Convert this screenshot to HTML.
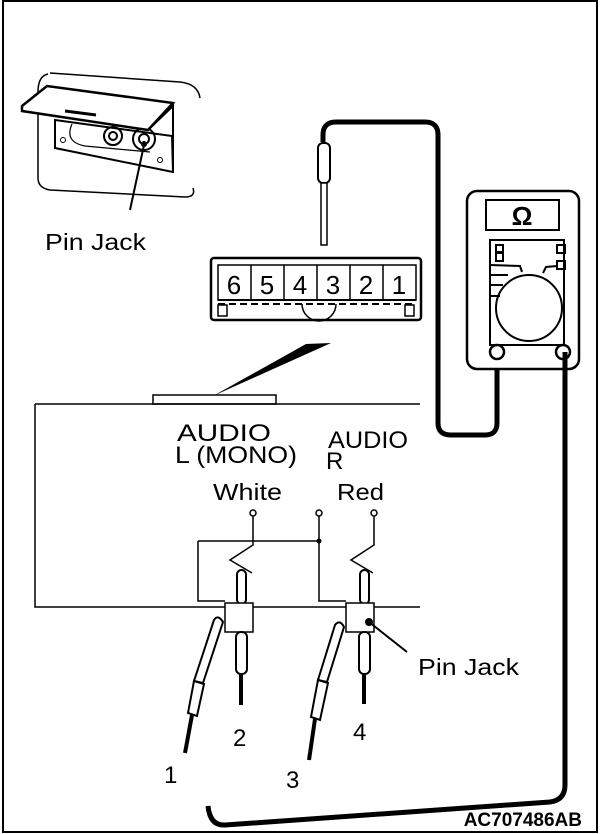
<!DOCTYPE html>
<html><head><meta charset="utf-8"><style>
html,body{margin:0;padding:0;background:#fff}
svg{display:block}
text{font-family:"Liberation Sans",Arial,sans-serif;fill:#000}
</style></head><body>
<svg width="600" height="834" viewBox="0 0 600 834" xmlns="http://www.w3.org/2000/svg">
<rect x="3" y="1" width="594" height="831" fill="none" stroke="#000" stroke-width="2"/>

<!-- pin jack illustration -->
<g fill="none" stroke="#000" stroke-width="1.5">
<path d="M48,74 Q38,76 38,92 L38,178 Q38,188 50,190 L185,197 Q196,197 193,188"/>
<path d="M50,73 L180,82 Q198,84 200,98"/>
</g>
<g fill="none" stroke="#000" stroke-width="2">
<polygon points="55,120 172,136 173,172 55,148" fill="#fff"/>
<path d="M72,124 Q64,142 85,146 L150,152" stroke-width="1.2"/>
<circle cx="63" cy="140" r="2.5" stroke-width="1"/>
<circle cx="160" cy="160" r="2.5" stroke-width="1"/>
<circle cx="113" cy="136" r="9"/><circle cx="113" cy="136" r="4"/>
<circle cx="144" cy="139" r="11"/><circle cx="144" cy="139" r="5"/>
<polygon points="22,106 47,86 173,103 148,130 22,111" fill="#fff" stroke-width="2.5"/>
<path d="M148,130 L173,106 L173,172" stroke-width="2"/>
<line x1="65" y1="111" x2="96" y2="115" stroke-width="3"/>
</g>
<line x1="144" y1="145" x2="130" y2="210" stroke="#000" stroke-width="2"/>
<circle cx="144" cy="144" r="3"/>
<text x="45" y="250" font-size="23" textLength="101" lengthAdjust="spacingAndGlyphs">Pin Jack</text>

<!-- probe top -->
<path d="M323,142 L323,135 Q323,122 336,122 L425,122 Q438,122 438,135 L438,423 Q438,435 451,435 L485,435 Q497,435 497,423 L497,352" fill="none" stroke="#000" stroke-width="5"/>
<rect x="318" y="143" width="12" height="40" rx="5" fill="#fff" stroke="#000" stroke-width="2"/>
<rect x="321" y="183" width="6" height="62" fill="#fff" stroke="#000" stroke-width="1.5"/>

<!-- connector -->
<g fill="none" stroke="#000">
<rect x="211" y="258" width="210" height="62" rx="3" stroke-width="2.5"/>
<rect x="218" y="265" width="198" height="35" stroke-width="1.5"/>
<line x1="251" y1="265" x2="251" y2="300" stroke-width="1.5"/>
<line x1="284" y1="265" x2="284" y2="300" stroke-width="1.5"/>
<line x1="317" y1="265" x2="317" y2="300" stroke-width="1.5"/>
<line x1="350" y1="265" x2="350" y2="300" stroke-width="1.5"/>
<line x1="383" y1="265" x2="383" y2="300" stroke-width="1.5"/>
<line x1="218" y1="300" x2="416" y2="300" stroke-width="2"/>
<line x1="218" y1="304" x2="416" y2="304" stroke-width="2" stroke-dasharray="7,4"/>
<rect x="218" y="305" width="9" height="11" stroke-width="1.5"/>
<rect x="405" y="305" width="9" height="11" stroke-width="1.5"/>
<path d="M302,304 A17,17 0 0 0 336,304" stroke-width="1.5"/>
</g>
<g font-size="26" text-anchor="middle">
<text x="234" y="294">6</text><text x="267" y="294">5</text><text x="300" y="294">4</text>
<text x="333" y="294">3</text><text x="366" y="294">2</text><text x="399" y="294">1</text>
</g>
<polygon points="213,396 306,344 331,343" fill="#000"/>

<!-- box -->
<rect x="153" y="395" width="123" height="9" fill="#fff" stroke="#000" stroke-width="1.5"/>
<path d="M35,404 L420,404 M35,404 L35,607 L420,607" fill="none" stroke="#000" stroke-width="1.5"/>
<text x="177" y="441" font-size="24" textLength="94" lengthAdjust="spacingAndGlyphs">AUDIO</text>
<text x="175" y="463" font-size="24" textLength="122" lengthAdjust="spacingAndGlyphs">L (MONO)</text>
<text x="328" y="448" font-size="24" textLength="80" lengthAdjust="spacingAndGlyphs">AUDIO</text>
<text x="326" y="469" font-size="24">R</text>
<text x="213" y="500" font-size="23" textLength="69" lengthAdjust="spacingAndGlyphs">White</text>
<text x="337" y="500" font-size="23" textLength="47" lengthAdjust="spacingAndGlyphs">Red</text>

<g fill="none" stroke="#000" stroke-width="1.5">
<circle cx="253" cy="513" r="3"/><circle cx="319" cy="513" r="3"/><circle cx="374" cy="513" r="3"/>
<path d="M253,516 L253,545 L230,560 L252,573"/>
<path d="M374,516 L374,545 L351,560 L373,573"/>
<path d="M319,516 L319,601 L346,601"/>
<path d="M198,541 L319,541 M198,541 L198,601 L225,601"/>
</g>
<circle cx="319" cy="541" r="2.5"/>
<!-- plugs -->
<g stroke="#000" fill="#fff">
<rect x="237" y="570" width="9" height="34" rx="4.5" stroke-width="2"/>
<rect x="360" y="570" width="9" height="34" rx="4.5" stroke-width="2"/>
<rect x="225" y="603" width="28" height="29" stroke-width="1.5"/>
<rect x="346" y="603" width="28" height="29" stroke-width="1.5"/>
<rect x="236" y="632" width="11" height="42" rx="5" stroke-width="2"/>
<rect x="359" y="632" width="11" height="42" rx="5" stroke-width="2"/>
</g>
<line x1="241" y1="674" x2="241" y2="705" stroke="#000" stroke-width="4"/>
<line x1="364" y1="674" x2="364" y2="704" stroke="#000" stroke-width="4"/>
<circle cx="369" cy="622" r="4"/>
<line x1="369" y1="622" x2="407" y2="652" stroke="#000" stroke-width="2"/>
<text x="418" y="675" font-size="23" textLength="101" lengthAdjust="spacingAndGlyphs">Pin Jack</text>
<!-- loose probes -->
<g stroke="#000" fill="#fff" stroke-width="2">
<path d="M223,622 L203,683 L194,681 L214,620 Q218,614 223,622 Z"/>
<polygon points="194,681 204,684 197,716 188,713"/>
<path d="M344,627 L327,682 L318,680 L335,625 Q340,619 344,627 Z"/>
<polygon points="318,680 328,683 320,720 311,717"/>
</g>
<line x1="192" y1="715" x2="185" y2="753" stroke="#000" stroke-width="4"/>
<line x1="315" y1="719" x2="309" y2="760" stroke="#000" stroke-width="4"/>
<g font-size="24">
<text x="164" y="783">1</text><text x="233" y="746">2</text>
<text x="286" y="788">3</text><text x="353" y="740">4</text>
</g>

<!-- meter -->
<rect x="467" y="191" width="112" height="178" rx="10" fill="#fff" stroke="#000" stroke-width="2.5"/>
<rect x="486" y="200" width="73" height="30" fill="none" stroke="#000" stroke-width="2"/>
<text x="522" y="225" font-size="26" font-weight="bold" text-anchor="middle">Ω</text>
<rect x="490" y="240" width="74" height="105" fill="none" stroke="#000" stroke-width="2"/>
<g fill="none" stroke="#000" stroke-width="2">
<rect x="496" y="245" width="7" height="7"/><rect x="496" y="253" width="7" height="8"/>
<rect x="557" y="245" width="8" height="8"/><rect x="557" y="261" width="8" height="8"/>
<path d="M490,265 L520,266 L522,272"/>
<path d="M490,275 L508,275"/><path d="M490,285 L503,285"/><path d="M490,296 L500,296"/>
<path d="M557,266 L546,267 L543,273"/>
<circle cx="529" cy="308" r="33"/>
</g>
<circle cx="497" cy="352" r="7" fill="#fff" stroke="#000" stroke-width="2.5"/>
<circle cx="563" cy="352" r="7" fill="#fff" stroke="#000" stroke-width="2.5"/>
<path d="M565,352 L565,785 Q565,800 550,802 L225,825 Q210,826 208,806" fill="none" stroke="#000" stroke-width="5"/>
<text x="582" y="826" font-size="19" font-weight="bold" text-anchor="end">AC707486AB</text>
</svg>
</body></html>
